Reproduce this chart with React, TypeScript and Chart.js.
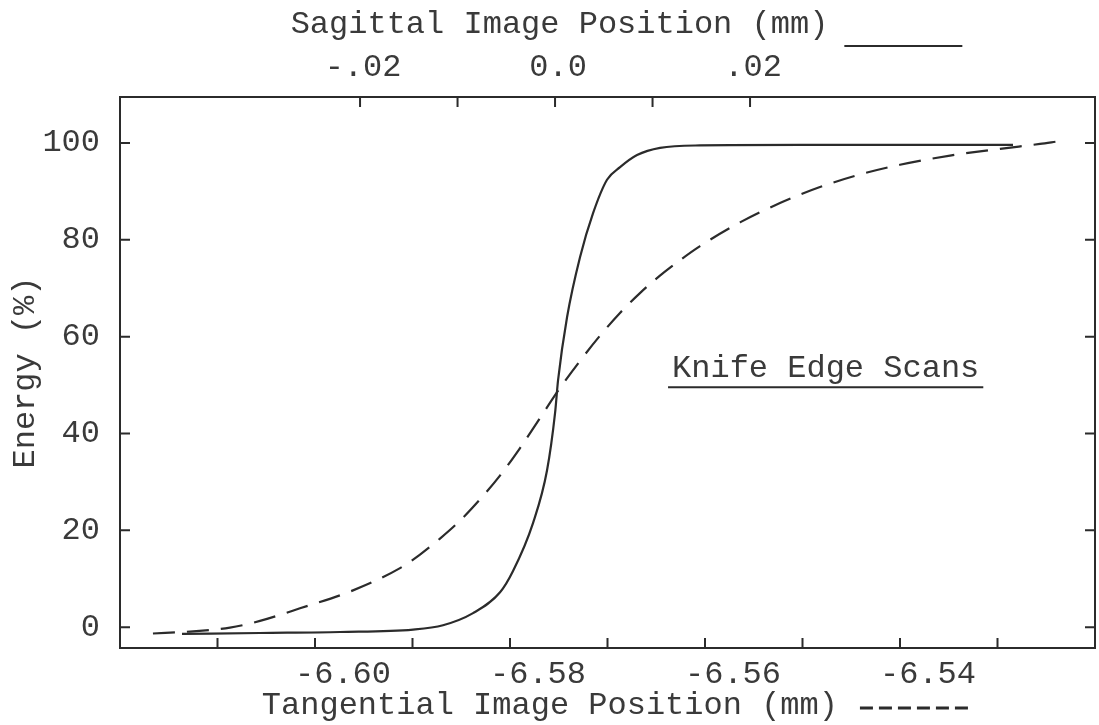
import React, { useEffect, useRef } from 'react';
import { Chart, registerables } from 'chart.js';

Chart.register(...registerables);

const FONT = '"Liberation Mono", "DejaVu Sans Mono", monospace';
const INK = '#2b2b2b';
const TEXT = '#3a3a3a';

// Sagittal scan (solid line, top axis, mm)
const sagittalX = [
  -0.03826, -0.03026, -0.02205, -0.01456, -0.01149, -0.00841, -0.00564, -0.00431,
  -0.00226, -0.00082, 0.0, 0.00031, 0.00123, 0.00256, 0.0039, 0.00533, 0.00667,
  0.00841, 0.01077, 0.01487, 0.02513, 0.03538, 0.04697,
];
const sagittalEnergy = [
  -1.4, -1.2, -1.0, -0.5, 0.4, 2.9, 7.2, 11.6,
  21.5, 32.4, 44.2, 51, 64, 76.4, 85.5, 92.4, 95,
  97.5, 99, 99.5, 99.6, 99.6, 99.6,
];

// Tangential scan (dashed line, bottom axis, mm)
const tangentialX = [
  -6.61662, -6.61282, -6.60872, -6.60564, -6.60154, -6.5961, -6.59128, -6.58923,
  -6.58718, -6.58513, -6.58308, -6.58103, -6.57897, -6.57692, -6.57487, -6.57282,
  -6.57077, -6.56872, -6.56667, -6.56462, -6.56256, -6.56051, -6.55641, -6.55231,
  -6.54821, -6.5441, -6.54, -6.53487, -6.52974, -6.52564, -6.5239,
];
const tangentialEnergy = [
  -1.3, -0.9, -0.1, 1.3, 3.9, 7.6, 12.2, 15.0,
  18.3, 22.0, 26.4, 31.3, 37.0, 43.2, 49.4, 55.0,
  60.2, 64.9, 69.0, 72.6, 75.8, 78.7, 83.6, 87.6,
  90.9, 93.5, 95.5, 97.4, 98.8, 99.8, 100.3,
];

const tangentialTicks = [-6.61, -6.6, -6.59, -6.58, -6.57, -6.56, -6.55, -6.54, -6.53];
const tangentialTickLabels = ['', '-6.60', '', '-6.58', '', '-6.56', '', '-6.54', ''];
const sagittalTicks = [-0.02, -0.01, 0, 0.01, 0.02];
const sagittalTickLabels = ['-.02', '', '0.0', '', '.02'];
const energyTicks = [0, 20, 40, 60, 80, 100];

const TOP_TITLE = 'Sagittal Image Position (mm)';
const BOTTOM_TITLE = 'Tangential Image Position (mm)';
const Y_TITLE = 'Energy (%)';
const NOTE = 'Knife Edge Scans';
const NOTE_AT = { x: -6.56338, y: 53.5 };

const TOP_PAD = 5;
const BOTTOM_PAD = 6;

const fontSpec = { family: FONT, size: 32, weight: 'normal' as const };

const decorations = {
  id: 'decorations',
  afterDraw(chart: any) {
    const ctx = chart.ctx as CanvasRenderingContext2D;
    const { left, right, top, bottom } = chart.chartArea;
    const xs = chart.scales.x;
    const x2 = chart.scales.x2;
    const ys = chart.scales.y;
    const y2 = chart.scales.y2;
    ctx.save();
    ctx.strokeStyle = INK;
    ctx.lineWidth = 2;
    const L = 10;
    ctx.beginPath();
    xs.ticks.forEach((t: any) => {
      const p = xs.getPixelForValue(t.value);
      ctx.moveTo(p, bottom);
      ctx.lineTo(p, bottom - L);
    });
    x2.ticks.forEach((t: any) => {
      const p = x2.getPixelForValue(t.value);
      ctx.moveTo(p, top);
      ctx.lineTo(p, top + L);
    });
    ys.ticks.forEach((t: any) => {
      const p = ys.getPixelForValue(t.value);
      ctx.moveTo(left, p);
      ctx.lineTo(left + L, p);
    });
    y2.ticks.forEach((t: any) => {
      const p = y2.getPixelForValue(t.value);
      ctx.moveTo(right, p);
      ctx.lineTo(right - L, p);
    });
    ctx.stroke();

    ctx.font = `32px ${FONT}`;
    // solid sample after top title
    const topFull = TOP_TITLE + ' '.repeat(TOP_PAD);
    const topCenter = (x2.left + x2.right) / 2;
    const topStart = topCenter - ctx.measureText(topFull).width / 2;
    const topEnd = topStart + ctx.measureText(TOP_TITLE).width;
    ctx.beginPath();
    ctx.lineWidth = 2;
    ctx.moveTo(topEnd + 16, 46);
    ctx.lineTo(topEnd + 134, 46);
    ctx.stroke();

    // dashed sample after bottom title
    const botFull = BOTTOM_TITLE + ' '.repeat(BOTTOM_PAD);
    const botCenter = (xs.left + xs.right) / 2;
    const botStart = botCenter - ctx.measureText(botFull).width / 2;
    const botEnd = botStart + ctx.measureText(BOTTOM_TITLE).width;
    ctx.beginPath();
    ctx.setLineDash([13, 6]);
    ctx.lineWidth = 3;
    ctx.moveTo(botEnd + 22, 708);
    ctx.lineTo(botEnd + 132, 708);
    ctx.stroke();
    ctx.setLineDash([]);

    // note with underline
    const nx = xs.getPixelForValue(NOTE_AT.x);
    const ny = ys.getPixelForValue(NOTE_AT.y);
    ctx.fillStyle = TEXT;
    ctx.textAlign = 'left';
    ctx.textBaseline = 'middle';
    ctx.fillText(NOTE, nx, ny);
    const w = ctx.measureText(NOTE).width;
    ctx.beginPath();
    ctx.lineWidth = 2;
    ctx.moveTo(nx - 4, ny + 19);
    ctx.lineTo(nx + w + 4, ny + 19);
    ctx.stroke();
    ctx.restore();
  },
};

export default function App() {
  const ref = useRef<HTMLCanvasElement | null>(null);
  useEffect(() => {
    if (!ref.current) return;
    const chart = new Chart(ref.current, {
      type: 'line',
      data: {
        datasets: [
          {
            label: 'Sagittal',
            data: sagittalX.map((x, i) => ({ x, y: sagittalEnergy[i] })),
            xAxisID: 'x2',
            yAxisID: 'y',
            borderColor: INK,
            borderWidth: 2.2,
            pointRadius: 0,
            cubicInterpolationMode: 'monotone',
            fill: false,
          },
          {
            label: 'Tangential',
            data: tangentialX.map((x, i) => ({ x, y: tangentialEnergy[i] })),
            xAxisID: 'x',
            yAxisID: 'y',
            borderColor: INK,
            borderWidth: 2.2,
            borderDash: [22, 12],
            pointRadius: 0,
            cubicInterpolationMode: 'monotone',
            fill: false,
          },
        ],
      },
      options: {
        animation: false,
        responsive: false,
        maintainAspectRatio: false,
        layout: { padding: 0 },
        plugins: { legend: { display: false }, tooltip: { enabled: false }, title: { display: false } },
        scales: {
          x: {
            type: 'linear',
            position: 'bottom',
            min: -6.62,
            max: -6.52,
            afterBuildTicks: (s: any) => {
              s.ticks = tangentialTicks.map((v) => ({ value: v }));
            },
            afterFit: (s: any) => {
              s.height = 77;
            },
            grid: { display: false, drawTicks: false },
            border: { display: true, color: INK, width: 2 },
            ticks: {
              autoSkip: false,
              maxRotation: 0,
              padding: 7,
              labelOffset: 28,
              color: TEXT,
              font: fontSpec,
              callback: (_v: any, i: number) => tangentialTickLabels[i],
            },
            title: {
              display: true,
              text: BOTTOM_TITLE + ' '.repeat(BOTTOM_PAD),
              color: TEXT,
              font: fontSpec,
              padding: { top: 0, bottom: 0 },
            },
          },
          x2: {
            type: 'linear',
            position: 'top',
            min: -0.04462,
            max: 0.05538,
            afterBuildTicks: (s: any) => {
              s.ticks = sagittalTicks.map((v) => ({ value: v }));
            },
            afterFit: (s: any) => {
              s.height = 97;
            },
            grid: { display: false, drawTicks: false },
            border: { display: true, color: INK, width: 2 },
            ticks: {
              autoSkip: false,
              maxRotation: 0,
              padding: 10,
              labelOffset: 3,
              color: TEXT,
              font: fontSpec,
              callback: (_v: any, i: number) => sagittalTickLabels[i],
            },
            title: {
              display: true,
              text: TOP_TITLE + ' '.repeat(TOP_PAD),
              color: TEXT,
              font: fontSpec,
              padding: { top: 5, bottom: 0 },
            },
          },
          y: {
            type: 'linear',
            position: 'left',
            min: -4.3,
            max: 109.5,
            afterBuildTicks: (s: any) => {
              s.ticks = energyTicks.map((v) => ({ value: v }));
            },
            afterFit: (s: any) => {
              s.width = 120;
            },
            grid: { display: false, drawTicks: false },
            border: { display: true, color: INK, width: 2 },
            ticks: {
              padding: 20,
              color: TEXT,
              font: fontSpec,
              callback: (v: any) => String(v),
            },
            title: {
              display: true,
              text: Y_TITLE,
              color: TEXT,
              font: fontSpec,
              padding: { top: 6, bottom: 0 },
            },
          },
          y2: {
            type: 'linear',
            position: 'right',
            min: -4.3,
            max: 109.5,
            afterBuildTicks: (s: any) => {
              s.ticks = energyTicks.map((v) => ({ value: v }));
            },
            afterFit: (s: any) => {
              s.width = 4;
            },
            grid: { display: false, drawTicks: false },
            border: { display: true, color: INK, width: 2 },
            ticks: { display: false },
          },
        },
      } as any,
      plugins: [decorations],
    });
    return () => chart.destroy();
  }, []);

  return (
    <div style={{ position: 'absolute', left: 0, top: 0, width: 1099, height: 725, background: '#fff' }}>
      <canvas ref={ref} width={1099} height={725} style={{ display: 'block', width: 1099, height: 725 }} />
    </div>
  );
}
